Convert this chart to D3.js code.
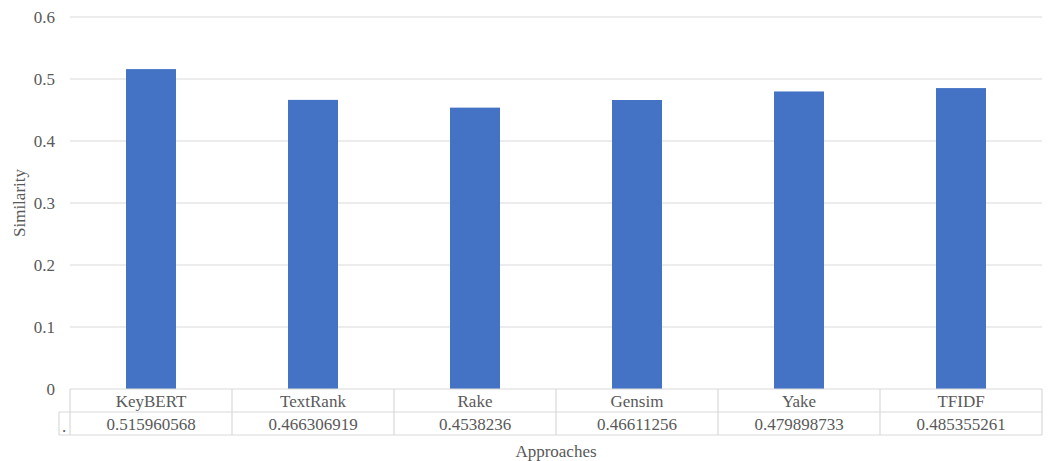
<!DOCTYPE html>
<html>
<head>
<meta charset="utf-8">
<script src="https://cdn.jsdelivr.net/npm/d3@7"></script>
<style>
  html, body { margin: 0; padding: 0; background: #fff; }
  svg { display: block; }
</style>
</head>
<body>
<svg id="chart" width="1048" height="461"></svg>
<script>
// Keyword extraction approaches and their similarity scores
const approaches = ["KeyBERT", "TextRank", "Rake", "Gensim", "Yake", "TFIDF"];
const similarity = [0.515960568, 0.466306919, 0.4538236, 0.46611256, 0.479898733, 0.485355261];
const valueLabels = ["0.515960568", "0.466306919", "0.4538236", "0.46611256", "0.479898733", "0.485355261"];
const yTicks = [0, 0.1, 0.2, 0.3, 0.4, 0.5, 0.6];

const FONT = '"Liberation Serif", "Times New Roman", "DejaVu Serif", serif';
const INK = "#595959";

const svg = d3.select("#chart");
const plotLeft = 70, plotRight = 1042, plotTop = 17, plotBottom = 389;
const rowH = 23;

const x = d3.scaleBand().domain(approaches).range([plotLeft, plotRight]).paddingInner(0).paddingOuter(0);
const y = d3.scaleLinear().domain([0, 0.6]).range([plotBottom, plotTop]);

// Horizontal gridlines
svg.append("g")
  .selectAll("line")
  .data(yTicks.filter(d => d > 0))
  .join("line")
  .attr("x1", plotLeft).attr("x2", plotRight)
  .attr("y1", d => y(d)).attr("y2", d => y(d))
  .attr("stroke", "#d9d9d9").attr("stroke-width", 1);

// Y axis tick labels
const yAxis = d3.axisLeft(y).tickValues(yTicks).tickSize(0).tickPadding(15)
  .tickFormat(d => d === 0 ? "0" : d3.format(".1f")(d));
const gy = svg.append("g").attr("transform", `translate(${plotLeft},0)`).call(yAxis)
  .attr("font-family", FONT).attr("font-size", 17);
gy.select(".domain").remove();
gy.selectAll("text").attr("fill", INK).attr("dy", "0.3em");

// Bars
const barW = 50;
svg.append("g")
  .selectAll("rect")
  .data(approaches)
  .join("rect")
  .attr("x", d => x(d) + x.bandwidth() / 2 - barW / 2)
  .attr("width", barW)
  .attr("y", (d, i) => y(similarity[i]))
  .attr("height", (d, i) => y(0) - y(similarity[i]))
  .attr("fill", "#4472c4");

// Data table below the plot
const tbl = svg.append("g").attr("stroke", "#d9d9d9").attr("stroke-width", 1.2).attr("fill", "none");
const legendLeft = 59;
tbl.append("line").attr("x1", plotLeft).attr("x2", plotRight).attr("y1", plotBottom).attr("y2", plotBottom);
tbl.append("line").attr("x1", legendLeft).attr("x2", plotRight).attr("y1", plotBottom + rowH).attr("y2", plotBottom + rowH);
tbl.append("line").attr("x1", legendLeft).attr("x2", plotRight).attr("y1", plotBottom + 2 * rowH).attr("y2", plotBottom + 2 * rowH);
const colEdges = approaches.map(d => x(d)).concat([plotRight]);
tbl.selectAll("line.col").data(colEdges).join("line").attr("class", "col")
  .attr("x1", d => d).attr("x2", d => d).attr("y1", plotBottom).attr("y2", plotBottom + 2 * rowH);
tbl.append("line").attr("x1", legendLeft).attr("x2", legendLeft).attr("y1", plotBottom + rowH).attr("y2", plotBottom + 2 * rowH);

const txt = svg.append("g").attr("font-family", FONT).attr("fill", INK).attr("font-size", 17);

// Category names row
txt.append("g").selectAll("text").data(approaches).join("text")
  .attr("x", d => x(d) + x.bandwidth() / 2)
  .attr("y", plotBottom + rowH / 2 + 6)
  .attr("text-anchor", "middle")
  .text(d => d);

// Values row
txt.append("g").selectAll("text").data(approaches).join("text")
  .attr("x", d => x(d) + x.bandwidth() / 2)
  .attr("y", plotBottom + rowH * 1.5 + 6)
  .attr("text-anchor", "middle")
  .text((d, i) => valueLabels[i]);

// Series key cell
txt.append("text").attr("x", 64).attr("y", plotBottom + rowH * 1.5 + 8)
  .attr("text-anchor", "middle").text(".");

// Axis titles
txt.append("text")
  .attr("x", (plotLeft + plotRight) / 2).attr("y", 457)
  .attr("text-anchor", "middle")
  .text("Approaches");
txt.append("text")
  .attr("transform", `translate(25,${(plotTop + plotBottom) / 2}) rotate(-90)`)
  .attr("text-anchor", "middle")
  .text("Similarity");
</script>
</body>
</html>
